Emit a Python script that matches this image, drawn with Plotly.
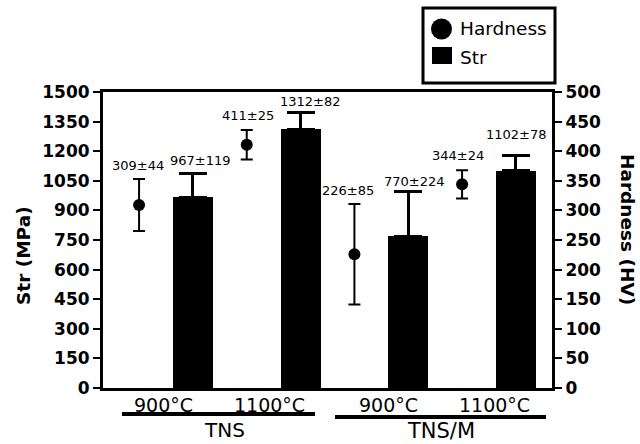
import plotly.graph_objects as go

# ---------------- data ----------------
groups = ["TNS", "TNS/M"]
temps = ["900°C", "1100°C", "900°C", "1100°C"]
hardness = [309, 411, 226, 344]
hardness_err = [44, 25, 85, 24]
strength = [967, 1312, 770, 1102]
strength_err = [119, 82, 224, 78]

# ---------------- layout constants ----------------
W, H = 640, 444
L, R, T, B = 103, 88, 92, 56
PW, PH = W - L - R, H - T - B
FONT = "DejaVu Sans"


def px(x):
    return (x - L) / PW


def py(y):
    return (H - B - y) / PH


n = len(temps)
hx = [2 * i for i in range(n)]
sx = [2 * i + 1 for i in range(n)]

fig = go.Figure()

fig.add_trace(go.Bar(
    x=sx, y=strength, name="Str", width=0.74,
    marker=dict(color="black", line=dict(width=0)),
    error_y=dict(type="data", symmetric=False, array=strength_err,
                 arrayminus=[0] * n, color="black", thickness=3, width=14),
    showlegend=False,
))

fig.add_trace(go.Scatter(
    x=hx, y=hardness, name="Hardness", mode="markers", yaxis="y2",
    marker=dict(color="black", size=12, symbol="circle"),
    error_y=dict(type="data", array=hardness_err, color="black",
                 thickness=2, width=6),
    showlegend=False,
))

annotations = []
shapes = []

# value labels
lab_x = hx + sx
lab_txt = [f"{v}±{e}" for v, e in zip(hardness, hardness_err)] + \
          [f"{v}±{e}" for v, e in zip(strength, strength_err)]
lab_y = [v + e for v, e in zip(hardness, hardness_err)] + \
        [v + e for v, e in zip(strength, strength_err)]
lab_ref = ["y2"] * n + ["y"] * n
xsh_h = [-1, 1, -6, -4]
xsh_s = [8, 10, 6, 1]
ysh_h = [4, 5, 4, 5]
ysh_s = [4, 2, 1, 11]
xsh = xsh_h + xsh_s
ysh = ysh_h + ysh_s
for x, t, y, r, xs, ys in zip(lab_x, lab_txt, lab_y, lab_ref, xsh, ysh):
    annotations.append(dict(
        x=x, y=y, xref="x", yref=r, text=t, showarrow=False,
        xanchor="center", yanchor="bottom", xshift=xs, yshift=ys,
        font=dict(family=FONT, size=13, color="black")))

# temperature labels
t_sh = [-2, -4, 7, 5]
for i, t in enumerate(temps):
    annotations.append(dict(
        x=(hx[i] + sx[i]) / 2, y=0, xref="x", yref="paper", text=t,
        showarrow=False, xanchor="center", yanchor="middle",
        xshift=t_sh[i], yshift=-17,
        font=dict(family=FONT, size=19, color="black")))

# group labels + underlines
g_sh = [(5, -42, 20), (6, -43, 21)]
line_px = [(122, 315, 414), (335, 546, 417)]
for gi, g in enumerate(groups):
    c = (hx[2 * gi] + sx[2 * gi + 1]) / 2
    xs, ys, fs = g_sh[gi]
    annotations.append(dict(
        x=c, y=0, xref="x", yref="paper", text=g, showarrow=False,
        xanchor="center", yanchor="middle", xshift=xs, yshift=ys,
        font=dict(family=FONT, size=fs, color="black")))
    x0, x1, yy = line_px[gi]
    shapes.append(dict(type="line", xref="paper", yref="paper",
                       x0=px(x0), x1=px(x1), y0=py(yy), y1=py(yy),
                       line=dict(color="black", width=4)))

# axis titles
annotations.append(dict(
    x=0, y=py(256), xref="paper", yref="paper", text="<b>Str (MPa)</b>",
    textangle=-90, showarrow=False, xanchor="center", yanchor="middle",
    xshift=23 - L, font=dict(family=FONT, size=18.5, color="black")))
annotations.append(dict(
    x=1, y=py(229), xref="paper", yref="paper", text="<b>Hardness (HV)</b>",
    textangle=90, showarrow=False, xanchor="center", yanchor="middle",
    xshift=628 - (W - R), font=dict(family=FONT, size=18.5, color="black")))

# manual legend
shapes.append(dict(type="rect", xref="paper", yref="paper",
                   x0=px(423), x1=px(555), y0=py(83), y1=py(8),
                   line=dict(color="black", width=3), fillcolor="white"))
shapes.append(dict(type="circle", xref="paper", yref="paper",
                   x0=px(431), x1=px(452), y0=py(39.5), y1=py(18.5),
                   line=dict(color="black", width=0), fillcolor="black"))
shapes.append(dict(type="rect", xref="paper", yref="paper",
                   x0=px(432), x1=px(452), y0=py(64), y1=py(47),
                   line=dict(color="black", width=0), fillcolor="black"))
annotations.append(dict(
    x=px(458), y=py(28), xref="paper", yref="paper", text="Hardness",
    showarrow=False, xanchor="left", yanchor="middle",
    font=dict(family=FONT, size=18.5, color="black")))
annotations.append(dict(
    x=px(458), y=py(57), xref="paper", yref="paper", text="Str",
    showarrow=False, xanchor="left", yanchor="middle",
    font=dict(family=FONT, size=18.5, color="black")))

tickfont = dict(family=FONT, size=17, color="black", weight="bold")

fig.update_layout(
    width=W, height=H,
    margin=dict(l=L, r=R, t=T, b=B, pad=0),
    paper_bgcolor="white", plot_bgcolor="white",
    showlegend=False,
    bargap=0,
    xaxis=dict(range=[-0.67, 7.67], showline=True, mirror=True,
               linecolor="black", linewidth=3, showticklabels=False,
               ticks="", showgrid=False, zeroline=False, fixedrange=True),
    yaxis=dict(range=[0, 1500], tick0=0, dtick=150, showline=True,
               linecolor="black", linewidth=3, ticks="outside", ticklen=7,
               tickwidth=2, tickcolor="black", showgrid=False,
               zeroline=False, tickfont=tickfont),
    yaxis2=dict(range=[0, 500], tick0=0, dtick=50, overlaying="y",
                side="right", showline=True, linecolor="black", linewidth=3,
                ticks="outside", ticklen=7, tickwidth=2, tickcolor="black",
                showgrid=False, zeroline=False, tickfont=tickfont),
    annotations=annotations,
    shapes=shapes,
)

fig.write_html("out.html")
